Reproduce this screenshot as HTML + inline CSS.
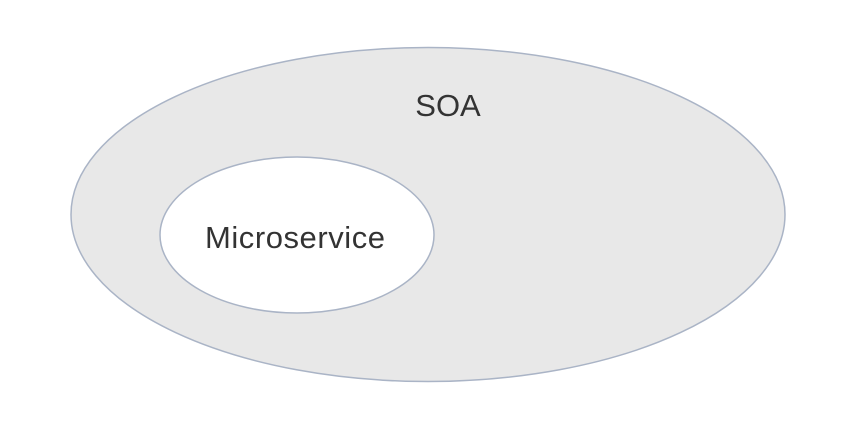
<!DOCTYPE html>
<html><head><meta charset="utf-8"><style>
html,body{margin:0;padding:0;background:#fff;width:846px;height:422px;overflow:hidden}
</style></head><body>
<svg width="846" height="422" viewBox="0 0 846 422" xmlns="http://www.w3.org/2000/svg">
<ellipse cx="428" cy="214.5" rx="357" ry="167" fill="#e8e8e8" stroke="#aab4c6" stroke-width="1.5"/>
<ellipse cx="297" cy="235" rx="137" ry="78" fill="#ffffff" stroke="#aab4c6" stroke-width="1.5"/>
<text x="448" y="116" font-family="Liberation Sans, sans-serif" font-size="31" fill="#333" text-anchor="middle">SOA</text>
<text x="295" y="248" font-family="Liberation Sans, sans-serif" font-size="31" fill="#333" text-anchor="middle" textLength="180">Microservice</text>
</svg>
</body></html>
